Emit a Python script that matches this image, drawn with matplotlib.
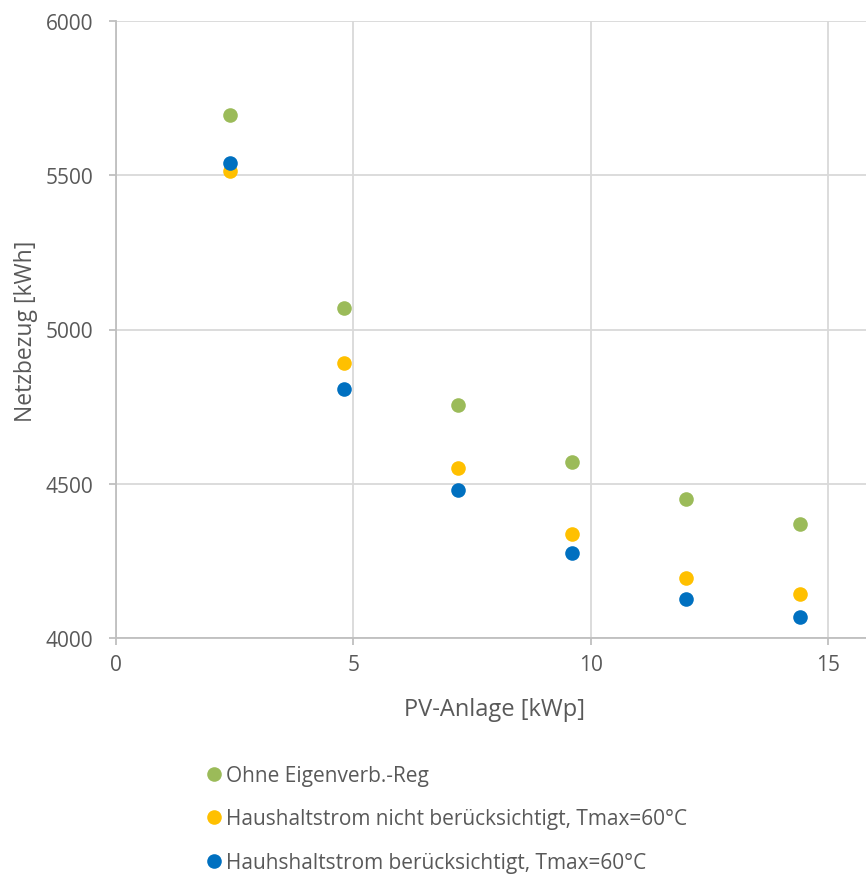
import numpy as np
import matplotlib.pyplot as plt

# PV size in kWp and grid draw in kWh
pv = [2.4, 4.8, 7.2, 9.6, 12.0, 14.4]
ohne_reg = [5695, 5070, 4755, 4570, 4450, 4368]
hh_nicht = [5515, 4890, 4550, 4337, 4194, 4142]
hh_ber = [5540, 4807, 4480, 4275, 4126, 4068]

labels = ["Ohne Eigenverb.-Reg",
          "Haushaltstrom nicht berücksichtigt, Tmax=60°C",
          "Hauhshaltstrom berücksichtigt, Tmax=60°C"]
colors = ["#9bbb59", "#ffc000", "#0070c0"]

plt.rcParams['font.family'] = ['Open Sans', 'DejaVu Sans']
txt = "#595959"
grid = "#d9d9d9"
W, H = 866, 878

fig = plt.figure(figsize=(W / 100, H / 100), dpi=100)
ax = fig.add_axes([116 / W, 1 - 639 / H, 1 - 116 / W, (639 - 22) / H])

for y, c, lab in zip([ohne_reg, hh_nicht, hh_ber], colors, labels):
    ax.plot(pv, y, "o", color=c, markersize=10.5, markeredgewidth=0, label=lab)

ax.set_xlim(0, 15.8)
ax.set_ylim(4000, 6000)
ax.set_xticks([0, 5, 10, 15])
ax.set_yticks([4000, 4500, 5000, 5500, 6000])
ax.grid(True, color=grid, linewidth=1.3)
ax.set_axisbelow(True)
for s in ["top", "right"]:
    ax.spines[s].set_visible(False)
for s in ["left", "bottom"]:
    ax.spines[s].set_color("#bfbfbf")
    ax.spines[s].set_linewidth(1.3)
ax.tick_params(colors="#bfbfbf", labelcolor=txt, labelsize=15, length=5, width=1.3)
ax.tick_params(axis="y", pad=11.5)
ax.tick_params(axis="x", pad=6.5)

# axis titles placed by baseline, in pixels
ax.set_xlabel("PV-Anlage [kWp]", color=txt, fontsize=17, va="baseline")
ax.xaxis.set_label_coords(495 / W, 1 - 716 / H, transform=fig.transFigure)
ax.set_ylabel("Netzbezug [kWh]", color=txt, fontsize=16.5, va="baseline")
ax.yaxis.set_label_coords(32 / W, 1 - 331 / H, transform=fig.transFigure)

fig.legend(loc="upper left", bbox_to_anchor=(204 / W, 1 - 766 / H), frameon=False,
           fontsize=15, labelcolor=txt, handletextpad=0.05, labelspacing=1.08,
           handlelength=1.0, borderpad=0, borderaxespad=0)

fig.savefig("out.png", dpi=100)
